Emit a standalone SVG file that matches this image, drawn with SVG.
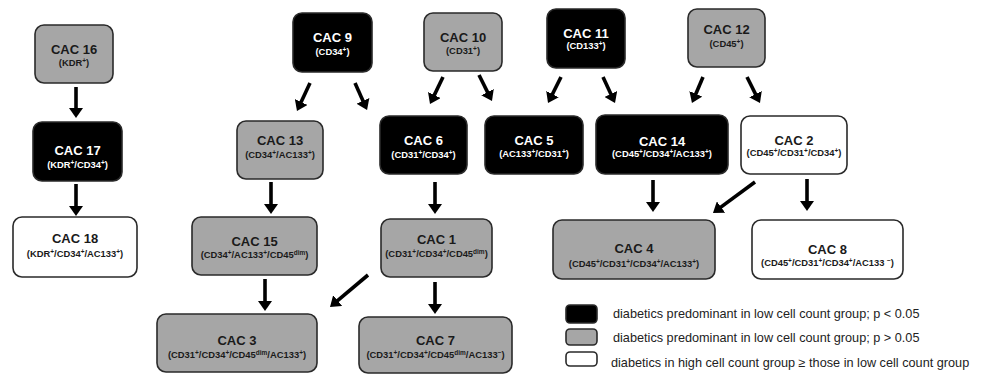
<svg xmlns="http://www.w3.org/2000/svg" width="984" height="374" viewBox="0 0 984 374">
<style>
.box{stroke:#2a2a2a;stroke-width:1.6}
.blk{fill:#000}
.gry{fill:#a6a6a6}
.wht{fill:#fff}
text{font-family:"Liberation Sans",Arial,sans-serif;text-anchor:middle;font-weight:bold}
.t{font-size:13px}
.s{font-size:9.4px}
.dk{fill:#1a1a1a}
.lt{fill:#fff}
.sup{font-size:6.5px}
.leg{font-size:12.7px;font-weight:normal;text-anchor:start;fill:#222}
.arr{stroke:#000;stroke-width:3.6;fill:none;marker-end:url(#ah)}
</style>
<defs>
<marker id="ah" markerUnits="userSpaceOnUse" viewBox="0 0 10 14" markerWidth="10" markerHeight="14" refX="4" refY="7" orient="auto">
<path d="M0,0 L10,7 L0,14 z" fill="#000"/>
</marker>
</defs>
<rect width="984" height="374" fill="#fff"/>

<g id="cac16"><rect class="box gry" x="35" y="25" width="78" height="58" rx="9"/><text class="t dk" x="74" y="54">CAC 16</text><text class="s dk" x="74" y="66">(KDR<tspan class="sup" dy="-3">+</tspan><tspan dy="3">)</tspan></text></g>
<g id="cac17"><rect class="box blk" x="33" y="122" width="89" height="59" rx="9"/><text class="t lt" x="77.5" y="155">CAC 17</text><text class="s lt" x="77.5" y="168">(KDR<tspan class="sup" dy="-3">+</tspan><tspan dy="3">/CD34</tspan><tspan class="sup" dy="-3">+</tspan><tspan dy="3">)</tspan></text></g>
<g id="cac18"><rect class="box wht" x="13" y="217" width="124" height="60" rx="9"/><text class="t dk" x="75" y="243">CAC 18</text><text class="s dk" x="75" y="257">(KDR<tspan class="sup" dy="-3">+</tspan><tspan dy="3">/CD34</tspan><tspan class="sup" dy="-3">+</tspan><tspan dy="3">/AC133</tspan><tspan class="sup" dy="-3">+</tspan><tspan dy="3">)</tspan></text></g>

<g id="cac9"><rect class="box blk" x="293" y="13" width="79" height="59" rx="9"/><text class="t lt" x="332.5" y="42">CAC 9</text><text class="s lt" x="332.5" y="55">(CD34<tspan class="sup" dy="-3">+</tspan><tspan dy="3">)</tspan></text></g>
<g id="cac10"><rect class="box gry" x="424" y="13" width="78" height="58" rx="9"/><text class="t dk" x="463" y="42">CAC 10</text><text class="s dk" x="463" y="54">(CD31<tspan class="sup" dy="-3">+</tspan><tspan dy="3">)</tspan></text></g>
<g id="cac11"><rect class="box blk" x="547" y="9" width="78" height="59" rx="9"/><text class="t lt" x="586" y="38">CAC 11</text><text class="s lt" x="586" y="49">(CD133<tspan class="sup" dy="-3">+</tspan><tspan dy="3">)</tspan></text></g>
<g id="cac12"><rect class="box gry" x="688" y="9" width="77" height="58" rx="9"/><text class="t dk" x="726.5" y="34">CAC 12</text><text class="s dk" x="726.5" y="47">(CD45<tspan class="sup" dy="-3">+</tspan><tspan dy="3">)</tspan></text></g>

<g id="cac13"><rect class="box gry" x="237" y="121" width="86" height="58" rx="9"/><text class="t dk" x="280" y="145">CAC 13</text><text class="s dk" x="280" y="158">(CD34<tspan class="sup" dy="-3">+</tspan><tspan dy="3">/AC133</tspan><tspan class="sup" dy="-3">+</tspan><tspan dy="3">)</tspan></text></g>
<g id="cac6"><rect class="box blk" x="380" y="116" width="87" height="58" rx="9"/><text class="t lt" x="423.5" y="145">CAC 6</text><text class="s lt" x="423.5" y="158">(CD31<tspan class="sup" dy="-3">+</tspan><tspan dy="3">/CD34</tspan><tspan class="sup" dy="-3">+</tspan><tspan dy="3">)</tspan></text></g>
<g id="cac5"><rect class="box blk" x="485" y="116" width="98" height="58" rx="9"/><text class="t lt" x="534" y="145">CAC 5</text><text class="s lt" x="534" y="157">(AC133<tspan class="sup" dy="-3">+</tspan><tspan dy="3">/CD31</tspan><tspan class="sup" dy="-3">+</tspan><tspan dy="3">)</tspan></text></g>
<g id="cac14"><rect class="box blk" x="596" y="115" width="132" height="59" rx="9"/><text class="t lt" x="662" y="146">CAC 14</text><text class="s lt" x="662" y="157">(CD45<tspan class="sup" dy="-3">+</tspan><tspan dy="3">/CD34</tspan><tspan class="sup" dy="-3">+</tspan><tspan dy="3">/AC133</tspan><tspan class="sup" dy="-3">+</tspan><tspan dy="3">)</tspan></text></g>
<g id="cac2"><rect class="box wht" x="741" y="116" width="106" height="58" rx="9"/><text class="t dk" x="794" y="145">CAC 2</text><text class="s dk" x="794" y="156">(CD45<tspan class="sup" dy="-3">+</tspan><tspan dy="3">/CD31</tspan><tspan class="sup" dy="-3">+</tspan><tspan dy="3">/CD34</tspan><tspan class="sup" dy="-3">+</tspan><tspan dy="3">)</tspan></text></g>

<g id="cac15"><rect class="box gry" x="192" y="217" width="125" height="58" rx="9"/><text class="t dk" x="254.5" y="246">CAC 15</text><text class="s dk" x="254.5" y="258">(CD34<tspan class="sup" dy="-3">+</tspan><tspan dy="3">/AC133</tspan><tspan class="sup" dy="-3">+</tspan><tspan dy="3">/CD45</tspan><tspan class="sup" dy="-3">dim</tspan><tspan dy="3">)</tspan></text></g>
<g id="cac1"><rect class="box gry" x="381" y="219" width="111" height="58" rx="9"/><text class="t dk" x="436.5" y="244">CAC 1</text><text class="s dk" x="436.5" y="257">(CD31<tspan class="sup" dy="-3">+</tspan><tspan dy="3">/CD34</tspan><tspan class="sup" dy="-3">+</tspan><tspan dy="3">/CD45</tspan><tspan class="sup" dy="-3">dim</tspan><tspan dy="3">)</tspan></text></g>
<g id="cac4"><rect class="box gry" x="553" y="220" width="162" height="59" rx="9"/><text class="t dk" x="634" y="253">CAC 4</text><text class="s dk" x="634" y="267">(CD45<tspan class="sup" dy="-3">+</tspan><tspan dy="3">/CD31</tspan><tspan class="sup" dy="-3">+</tspan><tspan dy="3">/CD34</tspan><tspan class="sup" dy="-3">+</tspan><tspan dy="3">/AC133</tspan><tspan class="sup" dy="-3">+</tspan><tspan dy="3">)</tspan></text></g>
<g id="cac8"><rect class="box wht" x="752" y="220" width="151" height="59" rx="9"/><text class="t dk" x="827.5" y="254">CAC 8</text><text class="s dk" x="827.5" y="266">(CD45<tspan class="sup" dy="-3">+</tspan><tspan dy="3">/CD31</tspan><tspan class="sup" dy="-3">+</tspan><tspan dy="3">/CD34</tspan><tspan class="sup" dy="-3">+</tspan><tspan dy="3">/AC133 </tspan><tspan class="sup" dy="-3">−</tspan><tspan dy="3">)</tspan></text></g>
<g id="cac3"><rect class="box gry" x="157" y="314" width="160" height="58" rx="9"/><text class="t dk" x="237" y="345">CAC 3</text><text class="s dk" x="237" y="358">(CD31<tspan class="sup" dy="-3">+</tspan><tspan dy="3">/CD34</tspan><tspan class="sup" dy="-3">+</tspan><tspan dy="3">/CD45</tspan><tspan class="sup" dy="-3">dim</tspan><tspan dy="3">/AC133</tspan><tspan class="sup" dy="-3">+</tspan><tspan dy="3">)</tspan></text></g>
<g id="cac7"><rect class="box gry" x="359" y="317" width="153" height="56" rx="9"/><text class="t dk" x="435.5" y="345">CAC 7</text><text class="s dk" x="435.5" y="358">(CD31<tspan class="sup" dy="-3">+</tspan><tspan dy="3">/CD34</tspan><tspan class="sup" dy="-3">+</tspan><tspan dy="3">/CD45</tspan><tspan class="sup" dy="-3">dim</tspan><tspan dy="3">/AC133</tspan><tspan class="sup" dy="-3">−</tspan><tspan dy="3">)</tspan></text></g>

<g id="connectors">
<line class="arr" x1="76" y1="87" x2="76" y2="112"/>
<line class="arr" x1="76" y1="184" x2="76" y2="210"/>
<line class="arr" x1="310" y1="83" x2="299.5" y2="105.6"/>
<line class="arr" x1="355" y1="83" x2="364.6" y2="104.5"/>
<line class="arr" x1="443" y1="77" x2="432.6" y2="98.6"/>
<line class="arr" x1="479" y1="75" x2="489.3" y2="95.6"/>
<line class="arr" x1="561" y1="77" x2="550.7" y2="97.6"/>
<line class="arr" x1="603" y1="77" x2="612.5" y2="97.6"/>
<line class="arr" x1="703" y1="77" x2="694.3" y2="97.5"/>
<line class="arr" x1="747" y1="77" x2="757.3" y2="97.6"/>
<line class="arr" x1="271" y1="182" x2="271" y2="208"/>
<line class="arr" x1="435" y1="182" x2="435" y2="208"/>
<line class="arr" x1="265" y1="279" x2="265" y2="305"/>
<line class="arr" x1="435" y1="282" x2="435" y2="308"/>
<line class="arr" x1="368" y1="275" x2="334.6" y2="303.1"/>
<line class="arr" x1="653" y1="180" x2="653" y2="206"/>
<line class="arr" x1="755" y1="182" x2="717.8" y2="209.4"/>
<line class="arr" x1="807" y1="179" x2="807" y2="205"/>
</g>

<g id="legend">
<rect class="box blk" x="566" y="305" width="31" height="18" rx="4"/>
<rect class="box gry" x="566" y="329" width="31" height="16" rx="4"/>
<rect class="box wht" x="566" y="352" width="31" height="14" rx="4"/>
<text class="leg" x="613" y="318">diabetics predominant in low cell count group; p &lt; 0.05</text>
<text class="leg" x="613" y="342">diabetics predominant in low cell count group; p &gt; 0.05</text>
<text class="leg" x="611" y="367">diabetics in high cell count group ≥ those in low cell count group</text>
</g>
</svg>
